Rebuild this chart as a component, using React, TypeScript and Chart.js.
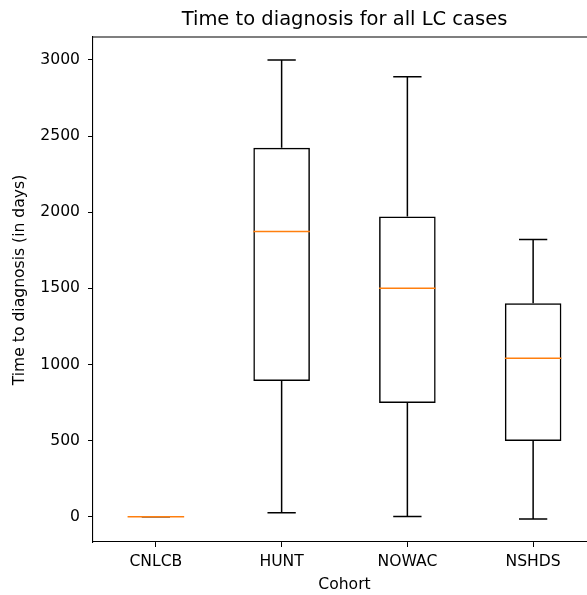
import React, { useEffect, useRef } from "react";
import { Chart, registerables } from "chart.js";

Chart.register(...registerables);

const cohorts = ["CNLCB", "HUNT", "NOWAC", "NSHDS"];
const whiskerLow = [0, 26, 2, -15];
const q1 = [0, 891, 747, 498];
const median = [0, 1873, 1500, 1041];
const q3 = [0, 2424, 1972, 1402];
const whiskerHigh = [0, 3000, 2890, 1821];
const yTickValues = [0, 500, 1000, 1500, 2000, 2500, 3000];

const FONT = "'DejaVu Sans', 'Liberation Sans', sans-serif";
const LABEL_SIZE = 15.6;

const boxPlugin = {
  id: "boxExtras",
  afterDatasetsDraw(chart: any) {
    const { ctx, chartArea, scales } = chart;
    const xs = scales.x;
    const ys = scales.y;
    const step = xs.getPixelForValue(1) - xs.getPixelForValue(0);
    const boxHalf = (step * 0.45) / 2;
    const capHalf = boxHalf / 2;
    ctx.save();
    ctx.lineWidth = 1.5;
    ctx.lineCap = "butt";
    for (let i = 0; i < cohorts.length; i++) {
      const x = xs.getPixelForValue(i);
      const yLow = ys.getPixelForValue(whiskerLow[i]);
      const yQ1 = ys.getPixelForValue(q1[i]);
      const yQ3 = ys.getPixelForValue(q3[i]);
      const yHigh = ys.getPixelForValue(whiskerHigh[i]);
      const yMed = ys.getPixelForValue(median[i]);
      ctx.strokeStyle = "#000";
      ctx.beginPath();
      ctx.moveTo(x, yQ1);
      ctx.lineTo(x, yLow);
      ctx.moveTo(x, yQ3);
      ctx.lineTo(x, yHigh);
      ctx.moveTo(x - capHalf, yLow);
      ctx.lineTo(x + capHalf, yLow);
      ctx.moveTo(x - capHalf, yHigh);
      ctx.lineTo(x + capHalf, yHigh);
      ctx.stroke();
      ctx.strokeStyle = "#ff7f0e";
      ctx.beginPath();
      ctx.moveTo(x - boxHalf, yMed);
      ctx.lineTo(x + boxHalf, yMed);
      ctx.stroke();
    }
    // top spine
    ctx.strokeStyle = "#000";
    ctx.lineWidth = 1.1;
    ctx.beginPath();
    ctx.moveTo(chartArea.left, chartArea.top);
    ctx.lineTo(chartArea.right, chartArea.top);
    ctx.stroke();
    // y axis label
    ctx.fillStyle = "#000";
    ctx.font = `${LABEL_SIZE}px ${FONT}`;
    ctx.textAlign = "center";
    ctx.textBaseline = "middle";
    ctx.translate(20, 280);
    ctx.rotate(-Math.PI / 2);
    ctx.fillText("Time to diagnosis (in days)", 0, 0);
    ctx.restore();
  },
};

export default function App() {
  const ref = useRef<HTMLCanvasElement>(null);
  useEffect(() => {
    if (!ref.current) return;
    const chart = new Chart(ref.current, {
      type: "bar",
      data: {
        labels: cohorts,
        datasets: [
          {
            data: cohorts.map((_, i) => [q1[i], q3[i]]) as any,
            backgroundColor: "rgba(0,0,0,0)",
            borderColor: "#000",
            borderWidth: 1.5,
            borderSkipped: false,
            barPercentage: 0.45,
            categoryPercentage: 1,
          },
        ],
      },
      options: {
        responsive: false,
        animation: false,
        layout: { padding: { left: 0, right: 24, top: 0, bottom: 0 } },
        plugins: {
          legend: { display: false },
          tooltip: { enabled: false },
          title: {
            display: true,
            text: "Time to diagnosis for all LC cases",
            fullSize: false,
            color: "#000",
            font: { family: FONT, size: 19.5, weight: "normal", lineHeight: 1.2 },
            padding: { top: 8.5, bottom: 5.1 },
          },
        },
        scales: {
          x: {
            type: "category",
            offset: true,
            afterFit: (s: any) => {
              s.height = 53;
            },
            grid: {
              display: true,
              offset: false,
              drawOnChartArea: false,
              drawTicks: true,
              tickLength: 5,
              color: "#000",
            },
            border: { display: true, color: "#000", width: 1.1 },
            ticks: {
              color: "#000",
              font: { family: FONT, size: LABEL_SIZE },
              padding: 5.5,
              maxRotation: 0,
            },
            title: {
              display: true,
              text: "Cohort",
              color: "#000",
              font: { family: FONT, size: LABEL_SIZE },
              padding: { top: 0, bottom: 1.2 },
            },
          },
          y: {
            type: "linear",
            min: -166,
            max: 3151,
            afterFit: (s: any) => {
              s.width = 93;
            },
            afterBuildTicks: (s: any) => {
              s.ticks = yTickValues.map((v) => ({ value: v }));
            },
            grid: {
              display: true,
              drawOnChartArea: false,
              drawTicks: true,
              tickLength: 5,
              color: "#000",
            },
            border: { display: true, color: "#000", width: 1.1 },
            ticks: {
              color: "#000",
              font: { family: FONT, size: LABEL_SIZE },
              padding: 8,
              callback: (v: any) => String(v),
            },
          },
        },
      },
      plugins: [boxPlugin],
    });
    return () => chart.destroy();
  }, []);
  return (
    <div
      style={{
        position: "absolute",
        left: 0,
        top: 0,
        width: 587,
        height: 595,
        overflow: "hidden",
        background: "#fff",
      }}
    >
      <canvas ref={ref} width={620} height={595} style={{ display: "block" }} />
    </div>
  );
}
